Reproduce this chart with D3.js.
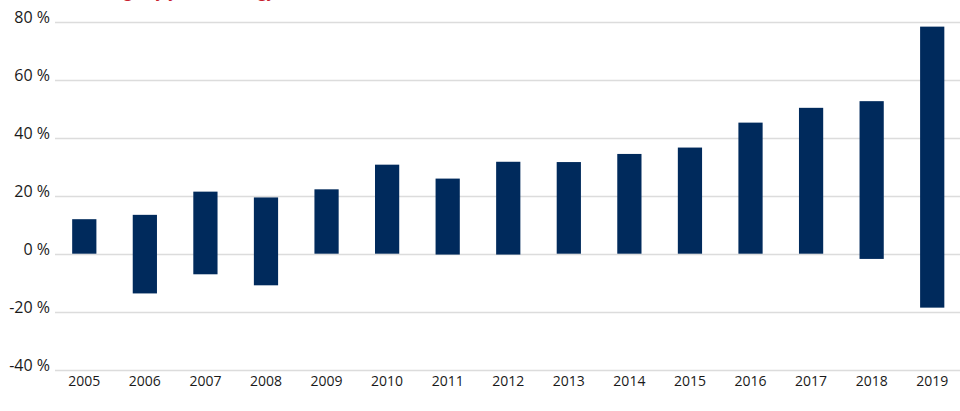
<!DOCTYPE html>
<html>
<head>
<meta charset="utf-8">
<script src="https://cdn.jsdelivr.net/npm/d3@7"></script>
<style>
  html, body { margin: 0; padding: 0; background: #fff; }
  svg { display: block; }
  text { font-family: "Open Sans", "Noto Sans", sans-serif; }
</style>
</head>
<body>
<svg id="chart" width="960" height="411"></svg>
<script>
const years = ["2005","2006","2007","2008","2009","2010","2011","2012","2013","2014","2015","2016","2017","2018","2019"];
const highs = [11.9, 13.4, 21.4, 19.4, 22.2, 30.7, 25.9, 31.7, 31.6, 34.4, 36.6, 45.2, 50.3, 52.6, 78.3];
const lows  = [0, -13.7, -7.1, -10.9, 0, 0, -0.3, -0.3, 0, 0, 0, 0, 0, -1.8, -18.6];
const yTicks = [-40, -20, 0, 20, 40, 60, 80];
const title = "Return range by year, Strategy (%)";

const data = years.map((y, i) => ({ year: y, high: highs[i], low: lows[i] }));

const svg = d3.select("#chart");

const x = d3.scaleBand()
  .domain(years)
  .range([54, 962.5])
  .paddingInner(0.6)
  .paddingOuter(0.3);

const y = d3.scaleLinear()
  .domain([-40, 80])
  .range([369.7, 21.7]);

// red title, cut off at the top edge as in the reference (only descenders visible)
svg.append("text")
  .attr("x", 40)
  .attr("y", -3)
  .attr("fill", "#c8202f")
  .attr("font-size", 16)
  .attr("font-weight", 600)
  .text(title);

// gridlines
svg.append("g")
  .selectAll("line")
  .data(yTicks)
  .join("line")
  .attr("x1", 55)
  .attr("x2", 960)
  .attr("y1", d => Math.round(y(d)) + 0.5)
  .attr("y2", d => Math.round(y(d)) + 0.5)
  .attr("stroke", "#dcdcdc")
  .attr("stroke-width", 1.3);

// y axis labels
const yAxis = d3.axisLeft(y)
  .tickValues(yTicks)
  .tickSize(0)
  .tickPadding(0)
  .tickFormat(d => d + " %");
const gy = svg.append("g")
  .attr("transform", "translate(50,-4)")
  .call(yAxis);
gy.select(".domain").remove();
gy.selectAll("text")
  .attr("font-size", 16)
  .attr("fill", "#1a1a1a")
  .attr("font-family", "'Open Sans', sans-serif");

// x axis labels
const xAxis = d3.axisBottom(x).tickSize(0).tickPadding(0);
const gx = svg.append("g")
  .attr("transform", "translate(0,376)")
  .call(xAxis);
gx.select(".domain").remove();
gx.selectAll("text")
  .attr("font-size", 14)
  .attr("fill", "#1a1a1a")
  .attr("font-family", "'Open Sans', sans-serif");

// bars
svg.append("g")
  .selectAll("rect")
  .data(data)
  .join("rect")
  .attr("x", d => x(d.year))
  .attr("width", x.bandwidth())
  .attr("y", d => y(d.high))
  .attr("height", d => y(d.low) - y(d.high))
  .attr("fill", "#002a5c");
</script>
</body>
</html>
